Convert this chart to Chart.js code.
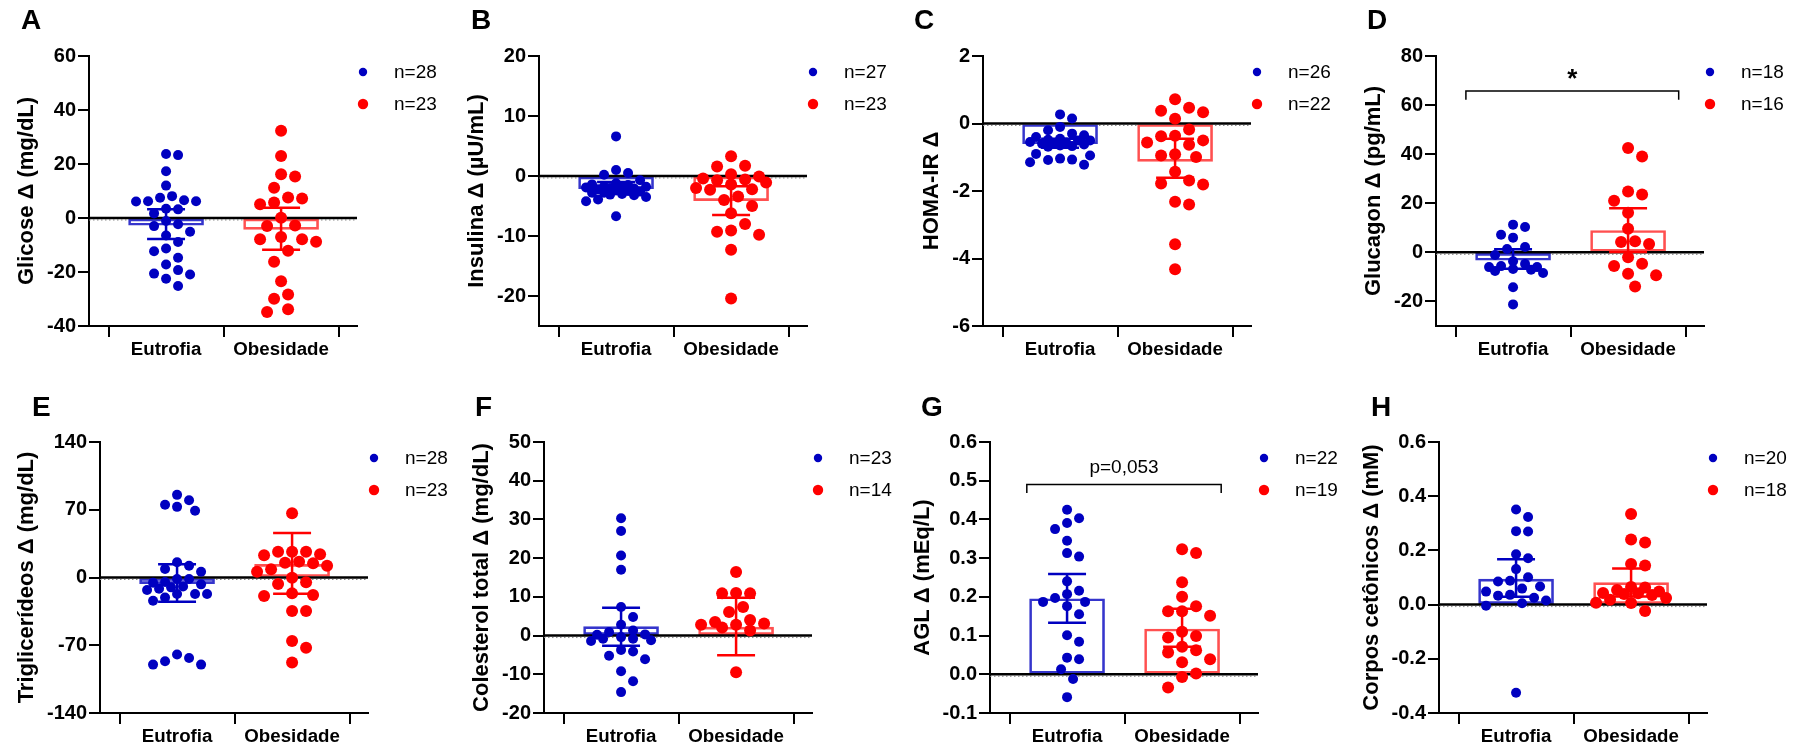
<!DOCTYPE html>
<html>
<head>
<meta charset="utf-8">
<script src="https://cdn.jsdelivr.net/npm/chart.js@4.4.1/dist/chart.umd.min.js"></script>
<style>
  body { margin: 0; background: #fff; width: 1802px; height: 750px; position: relative; overflow: hidden; }
  canvas { position: absolute; }
  .letter { position: absolute; font: bold 28px Arial, "Liberation Sans", sans-serif; line-height: 28px; color: #000; }
</style>
</head>
<body>
<script>
// --- Dados ---
const categories = ['Eutrofia', 'Obesidade'];

// A - Glicose
const glicoseEutrofia = [23.7, 23.3, 17.3, 12.0, 8.1, 7.5, 6.6, 6.2, 6.2, 6.1, 3.4, 3.2, 1.7, -1.1, -2.3, -3.0, -5.1, -6.5, -8.9, -11.3, -12.3, -14.7, -17.2, -19.3, -20.6, -20.9, -22.5, -25.2];
const glicoseObesidade = [32.3, 23.0, 16.2, 15.4, 11.2, 7.6, 7.2, 5.7, 5.1, 0.1, -2.8, -3.0, -7.0, -7.9, -7.9, -8.8, -12.1, -16.2, -23.4, -28.3, -29.9, -33.8, -34.8];
const glicoseMedia = [-2.7, -4.2];
const glicoseInf = [-7.8, -11.8];
const glicoseSup = [3.2, 3.8];
const glicoseTicks = [-40, -20, 0, 20, 40, 60];

// B - Insulina
const insulinaEutrofia = [6.6, 1.0, 0.5, 0.2, -0.7, -1.2, -1.4, -1.5, -1.7, -1.8, -1.8, -1.9, -2.0, -2.1, -2.2, -2.4, -2.5, -2.6, -2.8, -2.8, -3.0, -3.1, -3.2, -3.5, -3.9, -4.2, -6.7];
const insulinaObesidade = [3.3, 1.7, 1.6, 0.3, -0.1, -0.4, -0.6, -0.7, -1.1, -1.4, -2.0, -2.2, -2.3, -3.4, -4.0, -5.0, -6.2, -8.0, -9.1, -9.3, -9.8, -12.3, -20.4];
const insulinaMedia = [-2.1, -4.1];
const insulinaInf = [-2.8, -6.5];
const insulinaSup = [-1.0, -1.7];
const insulinaTicks = [-20, -10, 0, 10, 20];

// C - HOMA-IR
const homaEutrofia = [0.27, 0.15, -0.1, -0.2, -0.3, -0.35, -0.4, -0.45, -0.48, -0.5, -0.5, -0.55, -0.56, -0.58, -0.6, -0.62, -0.65, -0.67, -0.69, -0.9, -0.95, -1.04, -1.07, -1.08, -1.15, -1.22];
const homaObesidade = [0.72, 0.47, 0.38, 0.33, 0.14, -0.18, -0.36, -0.38, -0.5, -0.56, -0.63, -0.91, -0.95, -0.99, -1.43, -1.69, -1.78, -1.81, -2.32, -2.40, -3.58, -4.32];
const homaMedia = [-0.6, -1.12];
const homaInf = [-0.72, -1.61];
const homaSup = [-0.45, -0.45];
const homaTicks = [-6, -4, -2, 0, 2];

// D - Glucagon
const glucagonEutrofia = [11.3, 10.3, 7.2, 6.0, 2.2, 1.4, -1.1, -3.6, -4.7, -5.6, -6.0, -6.0, -6.8, -7.1, -7.6, -8.4, -14.2, -21.2];
const glucagonObesidade = [42.5, 39.1, 24.8, 23.6, 21.0, 16.1, 9.6, 4.5, 4.2, 3.4, -2.0, -4.6, -5.6, -8.7, -9.3, -13.9];
const glucagonMedia = [-3.2, 8.9];
const glucagonInf = [-6.7, 0.1];
const glucagonSup = [1.3, 18.0];
const glucagonTicks = [-20, 0, 20, 40, 60, 80];

// E - Triglicerídeos
const trigEutrofia = [85.4, 79.9, 75.1, 73.0, 68.9, 15.7, 12.2, 8.8, 6.0, -1.5, -1.5, -4.6, -5.3, -7.1, -9.2, -10.2, -11.6, -12.9, -17.1, -17.1, -17.1, -20.6, -24.0, -79.6, -83.1, -86.5, -90.0, -90.0];
const trigObesidade = [66.5, 26.7, 26.7, 26.7, 24.0, 22.9, 16.4, 15.3, 14.6, 12.2, 8.4, 6.0, -0.2, -5.0, -6.8, -16.4, -18.0, -19.2, -34.7, -34.7, -65.5, -72.7, -87.9];
const trigMedia = [-6.4, 13.6];
const trigInf = [-25.0, -16.8];
const trigSup = [13.6, 46.1];
const trigTicks = [-140, -70, 0, 70, 140];

// F - Colesterol total
const colEutrofia = [30.3, 27.0, 20.7, 17.0, 7.4, 4.8, 2.8, 1.3, 0.9, 0.3, 0.2, -0.4, -0.8, -0.8, -1.2, -1.4, -3.7, -4.1, -5.2, -6.1, -9.2, -11.8, -14.6];
const colObesidade = [16.4, 11.0, 10.9, 10.9, 7.4, 6.1, 4.0, 3.5, 3.1, 2.8, 2.8, 2.1, 1.3, -9.5];
const colMedia = [2.3, 2.2];
const colInf = [-2.6, -5.1];
const colSup = [7.2, 9.8];
const colTicks = [-20, -10, 0, 10, 20, 30, 40, 50];

// G - AGL
const aglEutrofia = [0.425, 0.403, 0.391, 0.375, 0.345, 0.313, 0.304, 0.240, 0.216, 0.207, 0.197, 0.187, 0.187, 0.176, 0.155, 0.101, 0.084, 0.043, 0.039, 0.013, -0.012, -0.059];
const aglObesidade = [0.323, 0.313, 0.238, 0.200, 0.176, 0.163, 0.163, 0.151, 0.110, 0.099, 0.095, 0.071, 0.062, 0.056, 0.039, 0.031, 0.002, -0.007, -0.034];
const aglMedia = [0.195, 0.117];
const aglInf = [0.133, 0.071];
const aglSup = [0.259, 0.169];
const aglTicks = [-0.1, 0, 0.1, 0.2, 0.3, 0.4, 0.5, 0.6];

// H - Corpos cetônicos
const corposEutrofia = [0.351, 0.323, 0.271, 0.270, 0.186, 0.171, 0.131, 0.101, 0.088, 0.085, 0.067, 0.059, 0.048, 0.036, 0.033, 0.025, 0.015, 0.005, -0.004, -0.325];
const corposObesidade = [0.334, 0.240, 0.229, 0.150, 0.144, 0.065, 0.063, 0.054, 0.048, 0.043, 0.042, 0.039, 0.035, 0.024, 0.018, 0.007, 0.006, -0.024];
const corposMedia = [0.094, 0.081];
const corposInf = [0.029, 0.03];
const corposSup = [0.167, 0.133];
const corposTicks = [-0.4, -0.2, 0, 0.2, 0.4, 0.6];

// --- Painéis ---
const panels = [
    { letter: 'A', title: 'Glicose Δ (mg/dL)', eut: glicoseEutrofia, obe: glicoseObesidade, media: glicoseMedia, inf: glicoseInf, sup: glicoseSup, ticks: glicoseTicks, min: -40, max: 60, dec: 0 },
    { letter: 'B', title: 'Insulina Δ (µU/mL)', eut: insulinaEutrofia, obe: insulinaObesidade, media: insulinaMedia, inf: insulinaInf, sup: insulinaSup, ticks: insulinaTicks, min: -25, max: 20, dec: 0 },
    { letter: 'C', title: 'HOMA-IR Δ', eut: homaEutrofia, obe: homaObesidade, media: homaMedia, inf: homaInf, sup: homaSup, ticks: homaTicks, min: -6, max: 2, dec: 0 },
    { letter: 'D', title: 'Glucagon Δ (pg/mL)', eut: glucagonEutrofia, obe: glucagonObesidade, media: glucagonMedia, inf: glucagonInf, sup: glucagonSup, ticks: glucagonTicks, min: -30, max: 80, dec: 0,
      note: { text: '*', bold: true, from: -0.41, to: 1.44, top: 65.7, foot: 62.2, y: 70.3 } },
    { letter: 'E', title: 'Triglicerídeos Δ (mg/dL)', eut: trigEutrofia, obe: trigObesidade, media: trigMedia, inf: trigInf, sup: trigSup, ticks: trigTicks, min: -140, max: 140, dec: 0 },
    { letter: 'F', title: 'Colesterol total Δ (mg/dL)', eut: colEutrofia, obe: colObesidade, media: colMedia, inf: colInf, sup: colSup, ticks: colTicks, min: -20, max: 50, dec: 0 },
    { letter: 'G', title: 'AGL Δ (mEq/L)', eut: aglEutrofia, obe: aglObesidade, media: aglMedia, inf: aglInf, sup: aglSup, ticks: aglTicks, min: -0.1, max: 0.6, dec: 1,
      note: { text: 'p=0,053', bold: false, from: -0.35, to: 1.34, top: 0.49, foot: 0.468, y: 0.533 } },
    { letter: 'H', title: 'Corpos cetônicos Δ (mM)', eut: corposEutrofia, obe: corposObesidade, media: corposMedia, inf: corposInf, sup: corposSup, ticks: corposTicks, min: -0.4, max: 0.6, dec: 1 }
];

// --- Layout (canvas, área do gráfico [esq, topo, dir, base], centro do título, letra) ---
const frames = [
    { left: 0,    top: 0,   w: 460, plot: [89, 56, 357, 326],    titleX: 27,   letter: [21, 10] },
    { left: 445,  top: 0,   w: 460, plot: [539, 56, 807, 326],   titleX: 477,  letter: [471, 10] },
    { left: 890,  top: 0,   w: 460, plot: [983, 56, 1251, 326],  titleX: 932,  letter: [914, 10] },
    { left: 1335, top: 0,   w: 467, plot: [1436, 56, 1704, 326], titleX: 1374, letter: [1367, 10] },
    { left: 0,    top: 375, w: 460, plot: [100, 442, 368, 713],  titleX: 27,   letter: [32, 397] },
    { left: 445,  top: 375, w: 460, plot: [544, 442, 812, 713],  titleX: 482,  letter: [475, 397] },
    { left: 890,  top: 375, w: 460, plot: [990, 442, 1258, 713], titleX: 923,  letter: [921, 397] },
    { left: 1335, top: 375, w: 467, plot: [1439, 442, 1707, 713], titleX: 1372, letter: [1371, 397] }
];

const FONT = 'Arial, "Liberation Sans", sans-serif';
const BLUE = '#0000c0';
const RED = '#ff0000';
const BLUE_BAR = '#3535cc';
const RED_BAR = '#ff5050';
const X_MIN = -0.67;
const X_MAX = 1.66;
const PX_PER_X = 115;
const CAP = 0.165;

Chart.defaults.font.family = FONT;
Chart.defaults.color = '#000';

// Distribui os pontos lado a lado (beeswarm); quando não há espaço livre
// dentro da largura máxima, aceita sobreposição parcial como no GraphPad
function swarm(values, centre, radius, pxPerY, maxOff) {
    const d = 2 * radius + 2;
    const placed = [];
    [...values].sort((a, b) => b - a).forEach(v => {
        const py = v * pxPerY;
        let best = 0;
        let bestGap = -1;
        for (let k = 0; ; k++) {
            const cand = (k % 2 ? 1 : -1) * Math.ceil(k / 2) * d / 2;
            if (Math.abs(cand) > maxOff) break;
            const gap = placed.reduce((m, q) => Math.min(m, Math.hypot(q.px - cand, q.py - py)), Infinity);
            if (gap >= d) { best = cand; break; }
            if (gap > bestGap + 0.5) { best = cand; bestGap = gap; }
        }
        placed.push({ px: best, py, v });
    });
    return placed.map(q => ({ x: centre + q.px / PX_PER_X, y: q.v }));
}

function errorBar(g, inf, sup) {
    return [
        { x: g - CAP, y: sup }, { x: g + CAP, y: sup }, { x: g, y: null },
        { x: g, y: sup }, { x: g, y: inf }, { x: g, y: null },
        { x: g - CAP, y: inf }, { x: g + CAP, y: inf }
    ];
}

// Plugin: linha pontilhada no zero, legenda "n=" e texto de significância
const extras = {
    id: 'extras',
    beforeDatasetsDraw(chart) {
        const { ctx, chartArea: a, scales: { y } } = chart;
        const y0 = y.getPixelForValue(0) + 2;
        ctx.save();
        ctx.strokeStyle = '#8a8a8a';
        ctx.lineWidth = 1;
        ctx.setLineDash([1.5, 2.5]);
        ctx.beginPath();
        ctx.moveTo(a.left, y0);
        ctx.lineTo(a.right, y0);
        ctx.stroke();
        ctx.restore();
    },
    afterDraw(chart, args, opts) {
        const { ctx, chartArea: a, scales: { x, y } } = chart;
        ctx.save();
        chart.data.datasets.filter(d => d.nLabel).forEach((d, i) => {
            const cy = a.top + 16 + i * 32;
            ctx.fillStyle = d.pointBackgroundColor;
            ctx.beginPath();
            ctx.arc(a.right + 6, cy, d.pointRadius - 0.8, 0, 2 * Math.PI);
            ctx.fill();
            ctx.fillStyle = '#000';
            ctx.font = '19px ' + FONT;
            ctx.textAlign = 'left';
            ctx.textBaseline = 'middle';
            ctx.fillText(d.nLabel, a.right + 37, cy + 1);
        });
        if (opts.note) {
            const n = opts.note;
            ctx.fillStyle = '#000';
            ctx.font = (n.bold ? 'bold 26px ' : '19px ') + FONT;
            ctx.textAlign = 'center';
            ctx.textBaseline = 'middle';
            ctx.fillText(n.text, x.getPixelForValue((n.from + n.to) / 2), y.getPixelForValue(n.y));
        }
        ctx.restore();
    }
};

panels.forEach((p, i) => {
    const f = frames[i];
    const [pl, pt, pr, pb] = f.plot;

    const canvas = document.createElement('canvas');
    canvas.width = f.w;
    canvas.height = 375;
    canvas.style.left = f.left + 'px';
    canvas.style.top = f.top + 'px';
    document.body.appendChild(canvas);

    const letter = document.createElement('div');
    letter.className = 'letter';
    letter.textContent = p.letter;
    letter.style.left = f.letter[0] + 'px';
    letter.style.top = (f.letter[1] - 4) + 'px';
    document.body.appendChild(letter);

    const pxPerY = (pb - pt) / (p.max - p.min);
    const xAxisH = 36;

    const datasets = [
        {
            type: 'bar',
            data: [{ x: 0, y: p.media[0] }, { x: 1, y: p.media[1] }],
            backgroundColor: 'rgba(255,255,255,0)',
            borderColor: [BLUE_BAR, RED_BAR],
            borderWidth: 2,
            borderSkipped: false,
            barThickness: 75,
            order: 5
        },
        {
            type: 'line',
            data: [{ x: X_MIN, y: 0 }, { x: X_MAX, y: 0 }],
            borderColor: '#000',
            borderWidth: 2.5,
            pointRadius: 0,
            order: 4
        },
        {
            type: 'scatter',
            data: swarm(p.eut, 0, 5, pxPerY, 33),
            nLabel: 'n=' + p.eut.length,
            pointBackgroundColor: BLUE,
            pointBorderWidth: 0,
            pointRadius: 5,
            order: 3
        },
        {
            type: 'scatter',
            data: swarm(p.obe, 1, 6, pxPerY, 35),
            nLabel: 'n=' + p.obe.length,
            pointBackgroundColor: RED,
            pointBorderWidth: 0,
            pointRadius: 6,
            order: 2
        },
        {
            type: 'line',
            data: errorBar(0, p.inf[0], p.sup[0]),
            borderColor: BLUE,
            borderWidth: 2.5,
            pointRadius: 0,
            spanGaps: false,
            order: 1
        },
        {
            type: 'line',
            data: errorBar(1, p.inf[1], p.sup[1]),
            borderColor: RED,
            borderWidth: 2.5,
            pointRadius: 0,
            spanGaps: false,
            order: 1
        }
    ];

    if (p.note) {
        const n = p.note;
        datasets.push({
            type: 'line',
            data: [{ x: n.from, y: n.foot }, { x: n.from, y: n.top }, { x: n.to, y: n.top }, { x: n.to, y: n.foot }],
            borderColor: '#000',
            borderWidth: 1.5,
            pointRadius: 0,
            order: 0
        });
    }

    new Chart(canvas, {
        type: 'scatter',
        data: { datasets },
        options: {
            responsive: false,
            animation: false,
            events: [],
            layout: {
                padding: {
                    left: 0,
                    top: pt - f.top,
                    right: f.left + f.w - pr,
                    bottom: f.top + 375 - pb - xAxisH
                }
            },
            plugins: {
                legend: { display: false },
                tooltip: { enabled: false },
                extras: { note: p.note || null }
            },
            scales: {
                x: {
                    type: 'linear',
                    min: X_MIN,
                    max: X_MAX,
                    offset: false,
                    afterFit: s => { s.height = xAxisH; },
                    afterBuildTicks: s => { s.ticks = categories.map((c, k) => ({ value: k })); },
                    ticks: {
                        callback: v => categories[v],
                        font: { size: 18.7, weight: 'bold' },
                        color: '#000',
                        padding: 2,
                        maxRotation: 0
                    },
                    grid: { display: true, drawOnChartArea: false, drawTicks: true, tickLength: 11, tickWidth: 2, tickColor: '#000', color: '#000', lineWidth: 2 },
                    border: { display: true, color: '#000', width: 2 }
                },
                y: {
                    type: 'linear',
                    min: p.min,
                    max: p.max,
                    afterFit: s => { s.width = pl - f.left; },
                    afterBuildTicks: s => { s.ticks = p.ticks.map(v => ({ value: v })); },
                    ticks: {
                        callback: v => p.dec ? v.toFixed(p.dec) : String(v),
                        font: { size: 20, weight: 'bold' },
                        color: '#000',
                        padding: 2
                    },
                    grid: { display: true, drawOnChartArea: false, drawTicks: true, tickLength: 11, tickWidth: 2, tickColor: '#000', color: '#000', lineWidth: 2 },
                    border: { display: true, color: '#000', width: 2 },
                    title: {
                        display: true,
                        text: p.title,
                        font: { size: 22, weight: 'bold' },
                        color: '#000',
                        padding: { top: f.titleX - f.left - 13.2, bottom: 0 }
                    }
                }
            }
        },
        plugins: [extras]
    });
});
</script>
</body>
</html>
